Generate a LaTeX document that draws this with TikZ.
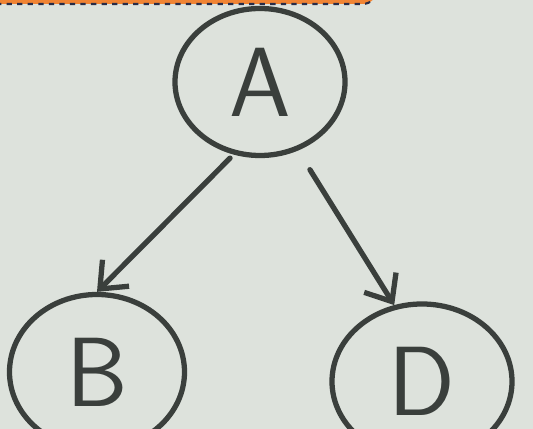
\documentclass[tikz,border=0pt]{standalone}
\usetikzlibrary{arrows.meta,shapes.geometric}
\definecolor{PaperGray}{RGB}{221,226,220}
\definecolor{PenGray}{RGB}{58,63,60}
\definecolor{BarOrange}{RGB}{240,132,52}
\definecolor{BarNavy}{RGB}{40,44,72}

\begin{document}
\begin{tikzpicture}[>={Straight Barb[length=0.45cm,width=0.75cm]}]
    \tikzset{vertex/.style={ellipse,draw=PenGray,line width=3pt,inner sep=0pt,text=PenGray,font=\sffamily\fontsize{56}{58}\selectfont},
      link/.style={->,PenGray,line width=3pt,line cap=round}}
    \clip (0,0) rectangle (10.66,8.58);
    \fill[PaperGray] (0,0) rectangle (10.66,8.58);
    % frame edge at the top
    \fill[BarOrange,rounded corners=0.3cm] (-0.5,8.50) -- (7.55,8.50) -- (7.55,9.2) -- (-0.5,9.2) -- cycle;
    \draw[BarNavy,dashed,line width=1.2pt,rounded corners=0.3cm] (-0.5,8.50) -- (7.55,8.50) -- (7.55,9.2);
    \node[vertex,minimum width=3.4cm,minimum height=2.94cm] (a) at (5.20,6.94) {A};
    \node[vertex,minimum width=3.5cm,minimum height=3.1cm] (b) at (1.94,1.14) {B};
    \node[vertex,minimum width=3.6cm,minimum height=3.1cm] (d) at (8.44,0.95) {D};
    \draw[link,shorten <=0.1cm] (a.250) -- (b.90);
    \draw[link,shorten <=0.45cm] (a.299) -- (d.110);
  \end{tikzpicture}
\end{document}
